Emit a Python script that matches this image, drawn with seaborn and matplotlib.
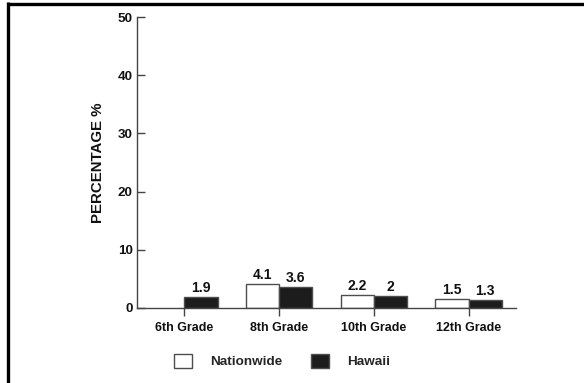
import numpy as np
import pandas as pd
import seaborn as sns
import matplotlib.pyplot as plt
from matplotlib.patches import Patch
from matplotlib.lines import Line2D

grades = ["6th Grade", "8th Grade", "10th Grade", "12th Grade"]
nationwide = [np.nan, 4.1, 2.2, 1.5]
hawaii = [1.9, 3.6, 2.0, 1.3]
series = ["Nationwide", "Hawaii"]
yticks = [0, 10, 20, 30, 40, 50]

df = pd.DataFrame({
    "grade": grades * 2,
    "group": [series[0]] * len(grades) + [series[1]] * len(grades),
    "pct": nationwide + hawaii,
})

sns.set_theme(style="white")
plt.rcParams["font.family"] = ["Liberation Sans", "DejaVu Sans"]

fig = plt.figure(figsize=(5.84, 3.83), dpi=100)
ax = fig.add_axes([137 / 584, 1 - 308 / 383, (516 - 137) / 584, (308 - 17) / 383])

fills = {"Nationwide": "white", "Hawaii": "#1c1c1c"}
sns.barplot(data=df.dropna(), x="grade", y="pct", hue="group", order=grades,
            hue_order=series, palette=fills, width=0.7, edgecolor="#4d4d4d",
            linewidth=1.0, saturation=1, ax=ax, legend=False)

for cont in ax.containers:
    ax.bar_label(cont, fmt="%g", padding=1.5, fontsize=10, fontweight="bold",
                 color="#111111")

ax.set_xlim(-0.5, 3.5)
ax.set_ylim(0, 50)
ax.set_yticks(yticks)
ax.set_xlabel("")
ax.set_ylabel("PERCENTAGE %", fontsize=10.8, fontweight="bold", labelpad=9,
              color="#111111")

for side in ("top", "right"):
    ax.spines[side].set_visible(False)
for side in ("left", "bottom"):
    ax.spines[side].set_color("#444444")
    ax.spines[side].set_linewidth(1.0)

ax.tick_params(axis="y", direction="in", length=6, width=1, color="#444444",
               labelsize=9.7, pad=3, left=True)
ax.tick_params(axis="x", direction="out", length=6, width=1, color="#444444",
               labelsize=9, pad=4, bottom=True)
for lbl in ax.get_yticklabels() + ax.get_xticklabels():
    lbl.set_fontweight("bold")
    lbl.set_color("#111111")

handles = [Patch(facecolor=fills[s], edgecolor="#4d4d4d", linewidth=1.0, label=s)
           for s in series]
fig.legend(handles=handles, loc="center left",
           bbox_to_anchor=(174 / 584, 1 - 361 / 383), ncol=2, frameon=False,
           borderpad=0, borderaxespad=0, handlelength=1.35, handleheight=1.2,
           handletextpad=1.35, columnspacing=2.1,
           prop={"size": 9.7, "weight": "bold"})

# frame lines along the top and left edges of the figure
fig.add_artist(Line2D([7.5 / 584, 1], [1 - 3.5 / 383, 1 - 3.5 / 383],
                      transform=fig.transFigure, color="black", linewidth=2.4,
                      solid_capstyle="butt"))
fig.add_artist(Line2D([7.5 / 584, 7.5 / 584], [0, 1 - 2 / 383],
                      transform=fig.transFigure, color="black", linewidth=2.4,
                      solid_capstyle="butt"))

fig.savefig("out.png", dpi=100)
